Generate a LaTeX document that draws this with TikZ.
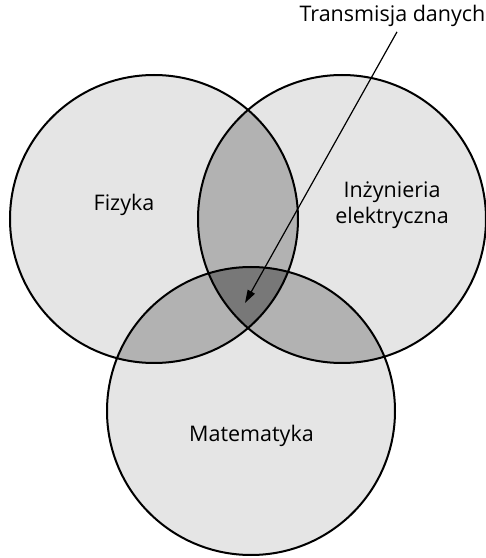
\documentclass[tikz,border=0pt]{standalone}
\usepackage{fontspec}
\setmainfont{Open Sans}
\usetikzlibrary{arrows.meta}

\definecolor{jasny}{gray}{0.90}
\definecolor{sredni}{gray}{0.70}
\definecolor{ciemny}{gray}{0.47}
\newcommand{\promien}{144pt}

\begin{document}
\begin{tikzpicture}[x=1pt, y=1pt,
  kolo/.style={draw, line width=2pt},
  etykieta/.style={font=\fontsize{21.5}{26}\selectfont, anchor=base}]
  \useasboundingbox (0,0) rectangle (486,558);

  % Circle centres
  \coordinate (fiz) at (154,339);
  \coordinate (inz) at (342,339);
  \coordinate (mat) at (251,147);

  % Areas
  \fill[jasny] (fiz) circle[radius=\promien] (inz) circle[radius=\promien] (mat) circle[radius=\promien];
  \begin{scope}
    \clip (fiz) circle[radius=\promien];
    \fill[sredni] (inz) circle[radius=\promien] (mat) circle[radius=\promien];
  \end{scope}
  \begin{scope}
    \clip (inz) circle[radius=\promien];
    \fill[sredni] (mat) circle[radius=\promien];
  \end{scope}
  \begin{scope}
    \clip (fiz) circle[radius=\promien];
    \clip (inz) circle[radius=\promien];
    \fill[ciemny] (mat) circle[radius=\promien];
  \end{scope}

  % Outlines
  \draw[kolo] (fiz) circle[radius=\promien];
  \draw[kolo] (inz) circle[radius=\promien];
  \draw[kolo] (mat) circle[radius=\promien];

  % Labels
  \node[etykieta] (fizyka) at (124,347) {Fizyka};
  \node[etykieta, anchor=center, align=center] (inzynieria) at (392,353) {Inżynieria\\elektryczna};
  \node[etykieta] (matematyka) at (251.5,116) {Matematyka};
  \node[etykieta, inner sep=4.5pt] (transmisja) at (392.5,536) {Transmisja danych};

  % Arrow
  \coordinate (srodek) at (245,255);
  \draw[-{Triangle[length=13pt,width=8pt]}, line width=1.2pt] ([xshift=4.5pt]transmisja.south) -- (srodek);
\end{tikzpicture}
\end{document}
